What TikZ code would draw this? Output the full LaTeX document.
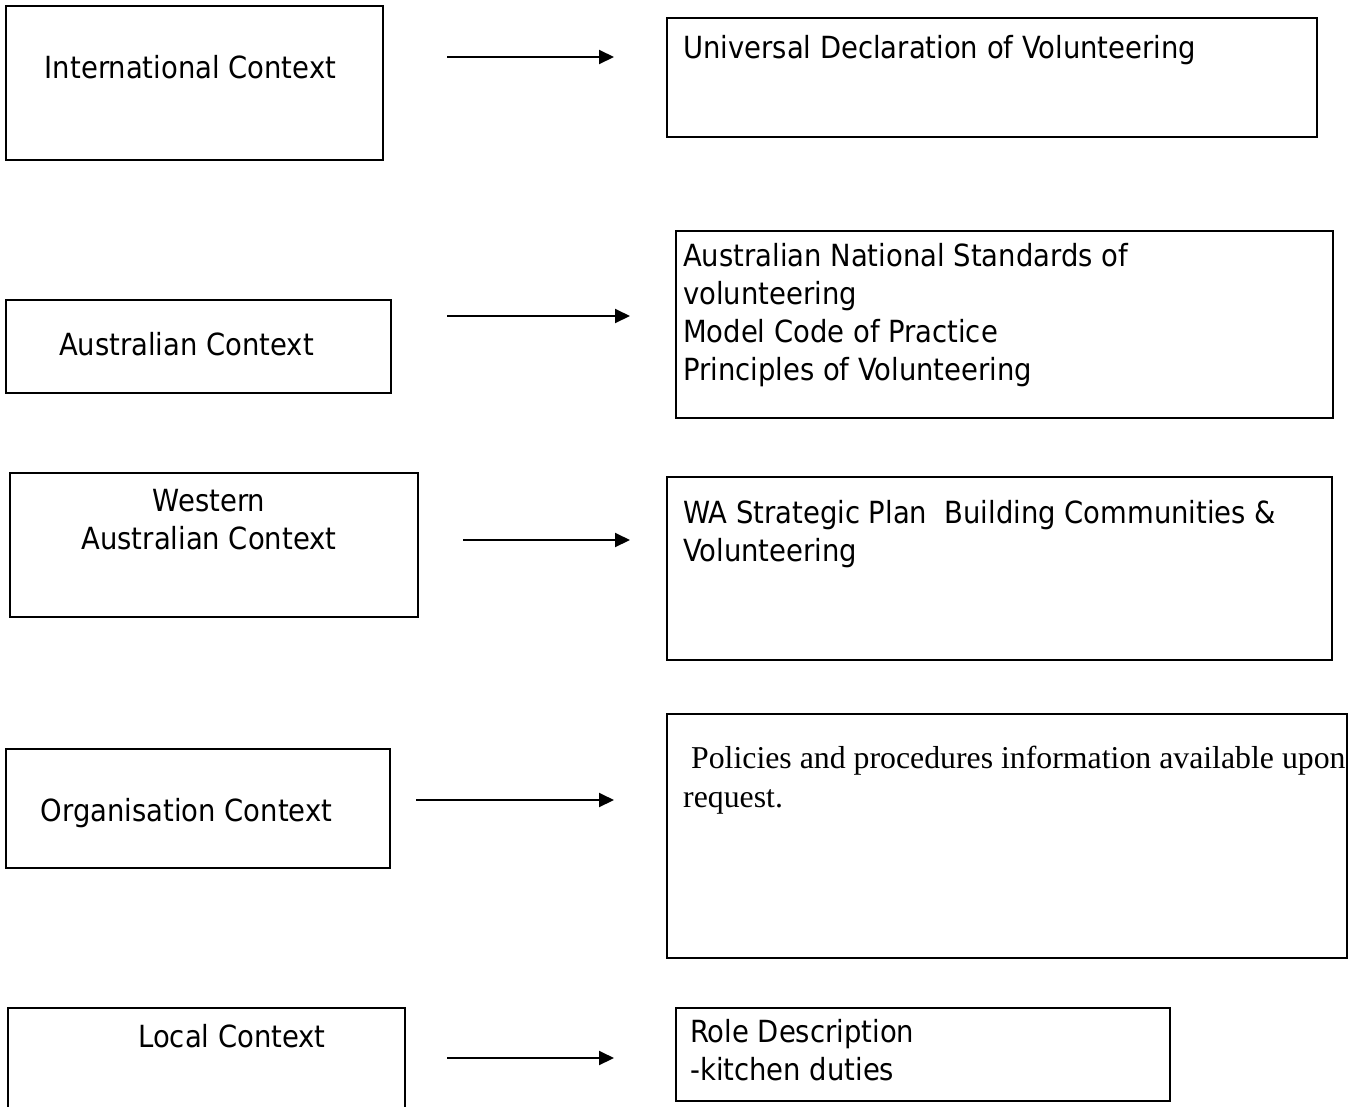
\documentclass[tikz,border=0pt]{standalone}
\usepackage{fontspec}
\setmainfont{DejaVu Sans Condensed}
\newfontfamily\timesfont{Liberation Serif}
\usetikzlibrary{arrows.meta}

\begin{document}
\begin{tikzpicture}[x=1pt, y=-1pt,
  ctxbox/.style={draw, line width=2.7pt, inner sep=0pt, outer sep=0pt},
  ctxtext/.style={font=\fontsize{30.5}{38}\selectfont, inner sep=0pt},
  infotext/.style={font=\fontsize{30.5}{38}\selectfont, inner sep=0pt, anchor=north west, align=left},
  toarrow/.style={line width=2pt, -{Triangle[length=15pt, width=14pt]}}
]

  % --- Rahmen ---
  \useasboundingbox (0,0) rectangle (1365,1106);
  \clip (0,0) rectangle (1365,1106);

  % --- Kontext-Kaesten (links) ---
  \node[ctxbox, minimum width=377pt, minimum height=154pt] (intl)  at (194.5,83)   {};
  \node[ctxbox, minimum width=385pt, minimum height=93pt]  (aus)   at (198.5,346.5) {};
  \node[ctxbox, minimum width=408pt, minimum height=144pt] (wa)    at (214,545)    {};
  \node[ctxbox, minimum width=384pt, minimum height=119pt] (org)   at (198,808.5)  {};
  \node[ctxbox, minimum width=397pt, minimum height=112pt] (local) at (206.5,1064) {};

  \node[ctxtext, anchor=base] (intltxt)  at (190.5,78)  {International Context};
  \node[ctxtext, anchor=base] (austxt)   at (186.5,355) {Australian Context};
  \node[ctxtext, anchor=north, align=center] (watxt) at (209,484.4) {\strut Western\\Australian Context};
  \node[ctxtext, anchor=base] (orgtxt)   at (186.5,821) {Organisation Context};
  \node[ctxtext, anchor=base] (localtxt) at (232,1047)  {Local Context};

  % --- Dokument-Kaesten (rechts) ---
  \node[ctxbox, minimum width=650pt, minimum height=119pt] (udv)   at (992,77.5)    {};
  \node[ctxbox, minimum width=657pt, minimum height=187pt] (nat)   at (1004.5,324.5) {};
  \node[ctxbox, minimum width=665pt, minimum height=183pt] (plan)  at (999.5,568.5) {};
  \node[ctxbox, minimum width=680pt, minimum height=244pt] (pol)   at (1007,836)    {};
  \node[ctxbox, minimum width=494pt, minimum height=93pt]  (role)  at (923,1054.5)  {};

  \node[ctxtext, anchor=base west] (udvtxt) at (683,58) {Universal Declaration of Volunteering};
  \node[infotext] (nattxt) at (683,239.4)
    {\strut Australian National Standards of\\volunteering\\Model Code of Practice\\Principles of Volunteering};
  \node[infotext] (plantxt) at (683,496.4)
    {\strut WA Strategic Plan\ \ Building Communities \&\\Volunteering};
  \node[infotext, font=\timesfont\fontsize{31.8}{39}\selectfont] (poltxt) at (683,741)
    {\strut\ Policies and procedures information available upon\\request.};
  \node[infotext] (roletxt) at (690,1015.4) {\strut Role Description\\-kitchen duties};

  % --- Pfeile ---
  \coordinate (a1s) at (447,57);   \coordinate (a1e) at (614,57);
  \coordinate (a2s) at (447,316);  \coordinate (a2e) at (630,316);
  \coordinate (a3s) at (463,540);  \coordinate (a3e) at (630,540);
  \coordinate (a4s) at (416,800);  \coordinate (a4e) at (614,800);
  \coordinate (a5s) at (447,1058); \coordinate (a5e) at (614,1058);
  \foreach \i in {1,...,5}
    \draw[toarrow] (a\i s) -- (a\i e);

\end{tikzpicture}
\end{document}
